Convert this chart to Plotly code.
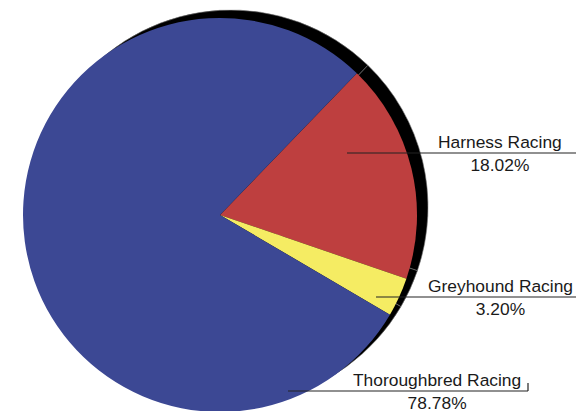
import plotly.graph_objects as go

# data
labels = ["Harness Racing", "Greyhound Racing", "Thoroughbred Racing"]
shares = [18.02, 3.20, 78.78]
colors = ["#BE3F3F", "#F5EC63", "#3C4894"]

# figure is a bit taller than the window so the pie can run off the bottom edge
W, H = 576, 430


def px_x(x):
    return x / W


def px_y(y):
    return 1 - y / H


# pie geometry in screen pixels (center x, center y, radius)
cx, cy, r = 220, 215, 197
sx, sy = 231, 207  # drop shadow center

fig = go.Figure()

# black drop shadow: same pie, drawn first
fig.add_trace(go.Pie(
    labels=labels, values=shares, sort=False, direction="clockwise", rotation=44,
    marker=dict(colors=["#000000"] * 3, line=dict(color="#777777", width=0.6)),
    textinfo="none", hoverinfo="skip", showlegend=False,
    domain=dict(x=[px_x(sx - r), px_x(sx + r)], y=[px_y(sy + r), px_y(sy - r)]),
))

fig.add_trace(go.Pie(
    labels=labels, values=shares, sort=False, direction="clockwise", rotation=44,
    marker=dict(colors=colors, line=dict(width=0)),
    textinfo="none", showlegend=False,
    domain=dict(x=[px_x(cx - r), px_x(cx + r)], y=[px_y(cy + r), px_y(cy - r)]),
))

# callouts: (line start x, line end x, line y, text center x)
callouts = [(347, 576, 153, 500), (376, 576, 297, 500), (288, 528, 391, 437)]

shapes = []
annotations = []
for (x0, x1, y, tx), lab, val in zip(callouts, labels, shares):
    shapes.append(dict(type="line", xref="paper", yref="paper",
                       x0=px_x(x0), x1=px_x(x1), y0=px_y(y), y1=px_y(y),
                       line=dict(color="#222222", width=1.2)))
    annotations.append(dict(xref="paper", yref="paper", x=px_x(tx), y=px_y(y),
                            xanchor="center", yanchor="middle", showarrow=False,
                            text=f"{lab}<br>{val:.2f}%",
                            font=dict(size=17.4, color="#1a1a1a")))

# small tick at the end of the last leader line
shapes.append(dict(type="line", xref="paper", yref="paper",
                   x0=px_x(528), x1=px_x(528), y0=px_y(383), y1=px_y(391),
                   line=dict(color="#222222", width=1.2)))

fig.update_layout(
    width=W, height=H,
    margin=dict(l=0, r=0, t=0, b=0),
    paper_bgcolor="white", plot_bgcolor="white",
    font=dict(family="Liberation Sans, Arial, sans-serif"),
    shapes=shapes, annotations=annotations,
)

# no page margin and no scrollbars, so the figure sits flush in the window
fig.write_html("out.html", config={"displayModeBar": False}, post_script=(
    "document.body.style.margin='0';"
    "document.documentElement.style.overflow='hidden';"
    "document.body.style.overflow='hidden';"
))
